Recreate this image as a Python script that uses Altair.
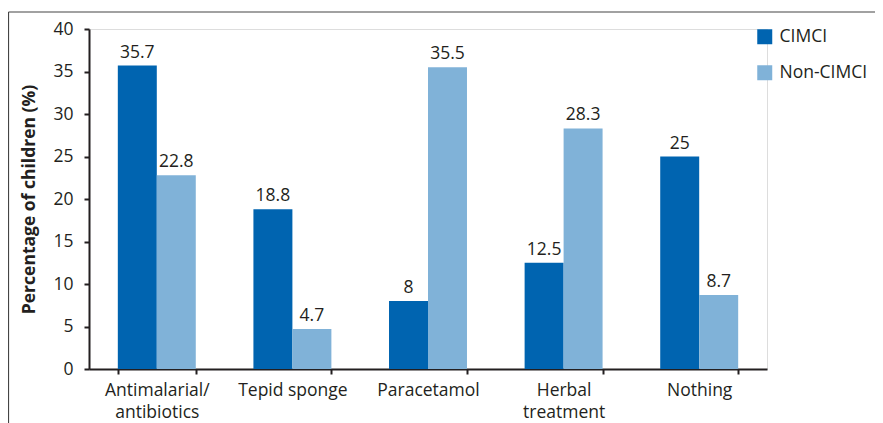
import altair as alt
import pandas as pd

categories = ["Antimalarial/ antibiotics", "Tepid sponge", "Paracetamol", "Herbal treatment", "Nothing"]
series = ["CIMCI", "Non-CIMCI"]
cimci = [35.7, 18.8, 8, 12.5, 25]
non_cimci = [22.8, 4.7, 35.5, 28.3, 8.7]
colors = ["#0064b0", "#80b2d8"]

rows = []
for c, a, b in zip(categories, cimci, non_cimci):
    rows.append({"cat": c, "group": series[0], "val": a, "lab": f"{a:g}"})
    rows.append({"cat": c, "group": series[1], "val": b, "lab": f"{b:g}"})
df = pd.DataFrame(rows)

FONT = "Open Sans"
INK = "#231f20"

xenc = alt.X("cat:N", sort=categories, title=None,
             scale=alt.Scale(paddingInner=0.425, paddingOuter=0.2125),
             axis=alt.Axis(labelAngle=0, tickBand="extent", domainColor=INK, domainWidth=2,
                           tickColor=INK, tickWidth=2, tickSize=5, labelPadding=7,
                           labelFontSize=17.5, labelColor=INK, labelFont=FONT, labelLineHeight=22,
                           labelExpr="datum.label == 'Antimalarial/ antibiotics' || datum.label == 'Herbal treatment' ? split(datum.label, ' ') : datum.label"))
yenc = alt.Y("val:Q", title="Percentage of children (%)",
             scale=alt.Scale(domain=[0, 40], nice=False),
             axis=alt.Axis(values=list(range(0, 41, 5)), grid=False, domainColor=INK, domainWidth=2,
                           tickColor=INK, tickWidth=2, tickSize=5, labelPadding=11,
                           labelFontSize=17.5, labelColor=INK, labelFont=FONT,
                           titleFontSize=17.5, titleFont=FONT, titleFontWeight="bold", titleColor=INK,
                           titlePadding=14))
xoff = alt.XOffset("group:N", sort=series)

bars = alt.Chart(df).mark_bar().encode(
    x=xenc, y=yenc, xOffset=xoff,
    color=alt.Color("group:N", sort=series, scale=alt.Scale(domain=series, range=colors),
                    legend=alt.Legend(title=None, orient="none", legendX=667, legendY=-1,
                                      symbolType="square", symbolSize=225, symbolStrokeWidth=0,
                                      rowPadding=17, labelFontSize=17.5, labelFont=FONT,
                                      labelColor=INK, labelOffset=6)),
)
labels = alt.Chart(df).mark_text(baseline="bottom", dy=-4, fontSize=17.5, font=FONT, color=INK).encode(
    x=alt.X("cat:N", sort=categories), y="val:Q", xOffset=xoff, text="lab:N"
)

frame_df = pd.DataFrame({"k": [0]})
left_line = alt.Chart(frame_df).mark_rule(color="#444444", strokeWidth=1.2, clip=False).encode(
    x=alt.value(-80.5), y=alt.value(-17), y2=alt.value(420))
top_line = alt.Chart(frame_df).mark_rule(color="#444444", strokeWidth=1.2, clip=False).encode(
    x=alt.value(-80.5), x2=alt.value(800), y=alt.value(-17))

chart = alt.layer(bars, labels, left_line, top_line).properties(
    width=678, height=340,
    autosize=alt.AutoSizeParams(type="none"),
    padding={"left": 81, "top": 21, "right": 108, "bottom": 60},
).configure_view(stroke=None).configure(font=FONT)

chart.save("out.html", embed_options={"renderer": "svg", "actions": False})
